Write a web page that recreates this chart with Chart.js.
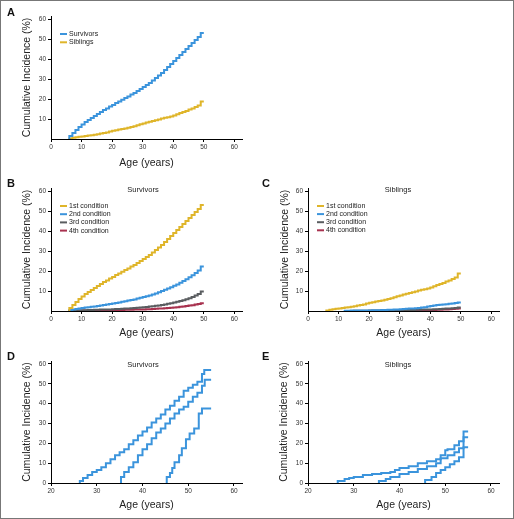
<!DOCTYPE html>
<html>
<head>
<meta charset="utf-8">
<script src="https://cdn.jsdelivr.net/npm/chart.js@4.4.1/dist/chart.umd.min.js"></script>
<style>
  body { margin: 0; background: #fff; }
  #frame { position: absolute; left: 0; top: 0; width: 514px; height: 519px; box-sizing: border-box; border: 1px solid #777; }
  canvas { position: absolute; }
  .tag { position: absolute; font: bold 11px "Liberation Sans", Arial, sans-serif; color: #111; }
</style>
</head>
<body>
<div id="frame"></div>
<canvas id="chartA" width="257" height="170" style="left:0;top:0"></canvas>
<canvas id="chartB" width="257" height="170" style="left:0;top:170px"></canvas>
<canvas id="chartC" width="257" height="170" style="left:255px;top:170px"></canvas>
<canvas id="chartD" width="257" height="177" style="left:0;top:340px"></canvas>
<canvas id="chartE" width="257" height="177" style="left:255px;top:340px"></canvas>
<div class="tag" style="left:7px;top:6px">A</div>
<div class="tag" style="left:7px;top:177px">B</div>
<div class="tag" style="left:262px;top:177px">C</div>
<div class="tag" style="left:7px;top:350px">D</div>
<div class="tag" style="left:262px;top:350px">E</div>
<script>
// ages for panels A-C (one step per year)
const ages = [6,7,8,9,10,11,12,13,14,15,16,17,18,19,20,21,22,23,24,25,26,27,28,29,30,
  31,32,33,34,35,36,37,38,39,40,41,42,43,44,45,46,47,48,49,50];

const survivors1st = [0,1.5,3,4.5,6,7.3,8.5,9.5,10.5,11.5,12.5,13.5,14.5,15.3,16.2,17,18,18.8,19.6,20.5,
  21.3,22.2,23,24,25,26,27,28,29.2,30.5,31.8,33,34.5,36,37.5,39,40.5,42,43.5,45,46.5,48,49.5,51,53];
const survivors2nd = [0,0.4,0.7,1,1.2,1.5,1.7,1.9,2.1,2.3,2.5,2.7,3,3.2,3.5,3.8,4,4.3,4.6,4.9,
  5.2,5.5,5.8,6.2,6.6,7,7.4,7.8,8.3,8.8,9.4,10,10.6,11.2,11.9,12.6,13.3,14.1,15,15.9,16.9,17.9,19,20.3,22.3];
const survivors3rd = [0,0.1,0.2,0.3,0.3,0.4,0.4,0.5,0.5,0.6,0.6,0.7,0.7,0.8,0.8,0.9,1,1,1.1,1.2,
  1.3,1.4,1.5,1.6,1.7,1.9,2,2.2,2.4,2.6,2.8,3,3.3,3.6,3.9,4.2,4.6,5,5.4,5.9,6.4,7,7.7,8.5,9.7];
const survivors4th = [0,0.1,0.1,0.1,0.2,0.2,0.2,0.2,0.3,0.3,0.3,0.3,0.4,0.4,0.4,0.4,0.5,0.5,0.5,0.6,
  0.6,0.6,0.7,0.7,0.8,0.8,0.9,0.9,1,1.1,1.2,1.3,1.4,1.5,1.6,1.8,1.9,2.1,2.3,2.5,2.7,2.9,3.2,3.5,3.9];

const siblings1st = [0,0.3,0.6,0.9,1.1,1.3,1.5,1.7,1.9,2.1,2.4,2.7,3,3.3,3.7,4.1,4.4,4.7,5,5.3,
  5.6,6,6.4,6.9,7.4,7.8,8.2,8.6,9,9.4,9.8,10.2,10.6,10.9,11.2,11.8,12.4,13,13.5,14,14.7,15.3,16,16.8,18.8];
const siblings2nd = [null,null,null,null,null,null,0,0.1,0.1,0.2,0.2,0.2,0.2,0.3,0.3,0.3,0.4,0.4,0.4,0.5,
  0.5,0.6,0.6,0.7,0.8,0.9,1,1.1,1.2,1.3,1.4,1.5,1.7,1.9,2.2,2.5,2.8,3,3.1,3.2,3.4,3.6,3.8,4,4.3];
const siblings3rd = [null,null,null,null,null,null,null,null,null,0,0.1,0.1,0.1,0.1,0.1,0.2,0.2,0.2,0.2,0.2,
  0.3,0.3,0.3,0.3,0.4,0.4,0.4,0.5,0.5,0.5,0.6,0.6,0.7,0.7,0.8,0.8,0.9,0.9,1,1.1,1.2,1.3,1.4,1.5,1.7];
const siblings4th = [null,null,null,null,null,null,null,null,null,null,null,null,null,null,null,null,null,null,null,null,
  null,0,0.1,0.1,0.1,0.1,0.2,0.2,0.2,0.2,0.3,0.3,0.3,0.4,0.4,0.5,0.5,0.6,0.6,0.7,0.8,0.9,1,1.1,1.2];

// panels D and E: curves by age at entry
const survD1Ages = [26.3,27,28,29,30,31,32,33,34,35,36,37,38,39,40,41,42,43,44,45,46,47,48,49,50,51,52,53,53.5,54.5,55];
const survD1 = [0,1,2.5,4,5.5,6.5,8,10,12,14,15.5,17,19.5,21.5,24,26,28,30.5,32.5,34.5,37,39,41.5,43.5,46.5,48,49.5,51,55,57,57];
const survD2Ages = [35.3,36,37,38,39,40,41,42,43,44,45,46,47,48,49,50,51,52,53,53.6,54.3,55];
const survD2 = [0,3,5.5,8,10.5,14,17,19.5,22.5,25.5,27.5,30,32.5,35,37,38.5,41,43.5,45.5,49,52,52];
const survD3Ages = [45.3,46,46.5,47,48,48.6,49.5,50.3,51.3,52.3,53,54,55];
const survD3 = [0,3,5,7.5,10.5,14,17.5,22,25,27.5,35,37.5,37.5];

const sibE1Ages = [26.5,28,29,30,32,34,36,38,39,40,42,44,46,48,49,50,50.5,52,53,54,54.6,55];
const sibE1 = [0,1,2,2.5,3,4,4.5,5,5.5,6.5,7.5,8.5,10,11,12,14,16.5,17,19,21,26,26];
const sibE2Ages = [35.5,37,38,40,42,44,46,48,49,50.5,52,53,54,54.6,55];
const sibE2 = [0,1,2,3,4.5,5.5,7,8.5,10,12.5,14,15.5,17.5,23,23];
const sibE3Ages = [45.6,47,48,49,50,51,52,53,54,54.6,55];
const sibE3 = [0,1.5,3,5,6.5,8,9.5,11,13,18,18];

const ticksA = [0,10,20,30,40,50,60];
const ticksD = [20,30,40,50,60];
const yTicksA = [10,20,30,40,50,60];
const yTicksD = [0,10,20,30,40,50,60];
const conditionLabels = ['1st condition','2nd condition','3rd condition','4th condition'];

const BLUE = '#3b94dc', GOLD = '#dfb52a', GRAY = '#5a5d60', RED = '#a8324f';

Chart.defaults.font.family = '"Liberation Sans", Arial, sans-serif';
Chart.defaults.color = '#333';

function series(label, xs, ys, color) {
  return {
    label: label,
    data: xs.map((x, i) => ({x: x, y: ys[i]})),
    borderColor: color,
    borderWidth: 2,
    pointRadius: 0,
    stepped: 'after',
    fill: false
  };
}

// draws the small in-plot title and line legend
const panelText = {
  id: 'panelText',
  afterDraw(chart, args, opts) {
    const ctx = chart.ctx;
    ctx.save();
    ctx.textBaseline = 'middle';
    ctx.fillStyle = '#222';
    if (opts.title) {
      ctx.font = '7.5px "Liberation Sans", Arial, sans-serif';
      ctx.textAlign = 'center';
      ctx.fillText(opts.title, opts.titleX, opts.titleY);
    }
    if (opts.legend) {
      ctx.font = '7px "Liberation Sans", Arial, sans-serif';
      ctx.textAlign = 'left';
      chart.data.datasets.forEach((ds, i) => {
        const y = opts.legendY + i * opts.legendGap;
        ctx.strokeStyle = ds.borderColor;
        ctx.lineWidth = 2;
        ctx.beginPath();
        ctx.moveTo(opts.legendX, y);
        ctx.lineTo(opts.legendX + 7, y);
        ctx.stroke();
        ctx.fillText(ds.label, opts.legendX + 9, y);
      });
    }
    ctx.restore();
  }
};

function makeChart(id, datasets, c) {
  new Chart(document.getElementById(id), {
    type: 'line',
    data: {datasets: datasets},
    plugins: [panelText],
    options: {
      responsive: false,
      animation: false,
      layout: {padding: c.pad},
      plugins: {legend: {display: false}, tooltip: {enabled: false}, panelText: c.text},
      scales: {
        x: {
          type: 'linear', min: c.xMin, max: c.xMax,
          afterBuildTicks: s => { s.ticks = c.xTicks.map(v => ({value: v})); },
          afterFit: s => { s.height = c.xH; },
          grid: {drawOnChartArea: false, tickLength: 3, color: '#000'},
          border: {color: '#000', width: 1},
          ticks: {font: {size: 6.5}, color: '#333', padding: 1, maxRotation: 0, autoSkip: false},
          title: {display: true, text: 'Age (years)', color: '#222', padding: 0,
            font: {family: '"Liberation Sans Narrow", "Liberation Sans", sans-serif', size: 10.5}}
        },
        y: {
          type: 'linear', min: 0, max: 61.5,
          afterBuildTicks: s => { s.ticks = c.yTicks.map(v => ({value: v})); },
          afterFit: s => { s.width = c.yW; },
          grid: {drawOnChartArea: false, tickLength: 3, color: '#000'},
          border: {color: '#000', width: 1},
          ticks: {font: {size: 6.5}, color: '#333', padding: 2},
          title: {display: true, text: 'Cumulative Incidence (%)', color: '#222', padding: 0,
            font: {family: '"Liberation Sans Narrow", "Liberation Sans", sans-serif', size: 10.5}}
        }
      }
    }
  });
}

makeChart('chartA', [
  series('Survivors', ages, survivors1st, BLUE),
  series('Siblings', ages, siblings1st, GOLD)
], {xMin: 0, xMax: 62.5, xTicks: ticksA, yTicks: yTicksA, yW: 30, xH: 30,
    pad: {left: 21, right: 15, top: 16, bottom: 1},
    text: {legend: true, legendX: 60, legendY: 34, legendGap: 8.3}});

makeChart('chartB', [
  series(conditionLabels[0], ages, survivors1st, GOLD),
  series(conditionLabels[1], ages, survivors2nd, BLUE),
  series(conditionLabels[2], ages, survivors3rd, GRAY),
  series(conditionLabels[3], ages, survivors4th, RED)
], {xMin: 0, xMax: 62.5, xTicks: ticksA, yTicks: yTicksA, yW: 30, xH: 28,
    pad: {left: 21, right: 15, top: 18, bottom: 1},
    text: {title: 'Survivors', titleX: 143, titleY: 19.5, legend: true, legendX: 60, legendY: 36, legendGap: 8.2}});

makeChart('chartC', [
  series(conditionLabels[0], ages, siblings1st, GOLD),
  series(conditionLabels[1], ages, siblings2nd, BLUE),
  series(conditionLabels[2], ages, siblings3rd, GRAY),
  series(conditionLabels[3], ages, siblings4th, RED)
], {xMin: 0, xMax: 62.5, xTicks: ticksA, yTicks: yTicksA, yW: 29, xH: 28,
    pad: {left: 24, right: 13, top: 18, bottom: 1},
    text: {title: 'Siblings', titleX: 143, titleY: 19.5, legend: true, legendX: 62, legendY: 36, legendGap: 8.1}});

makeChart('chartD', [
  series('Survivors 1', survD1Ages, survD1, BLUE),
  series('Survivors 2', survD2Ages, survD2, BLUE),
  series('Survivors 3', survD3Ages, survD3, BLUE)
], {xMin: 20, xMax: 61.75, xTicks: ticksD, yTicks: yTicksD, yW: 30, xH: 28,
    pad: {left: 21, right: 15, top: 21, bottom: 6},
    text: {title: 'Survivors', titleX: 143, titleY: 25}});

makeChart('chartE', [
  series('Siblings 1', sibE1Ages, sibE1, BLUE),
  series('Siblings 2', sibE2Ages, sibE2, BLUE),
  series('Siblings 3', sibE3Ages, sibE3, BLUE)
], {xMin: 20, xMax: 61.75, xTicks: ticksD, yTicks: yTicksD, yW: 30, xH: 28,
    pad: {left: 23, right: 13, top: 21, bottom: 6},
    text: {title: 'Siblings', titleX: 143, titleY: 25}});
</script>
</body>
</html>
